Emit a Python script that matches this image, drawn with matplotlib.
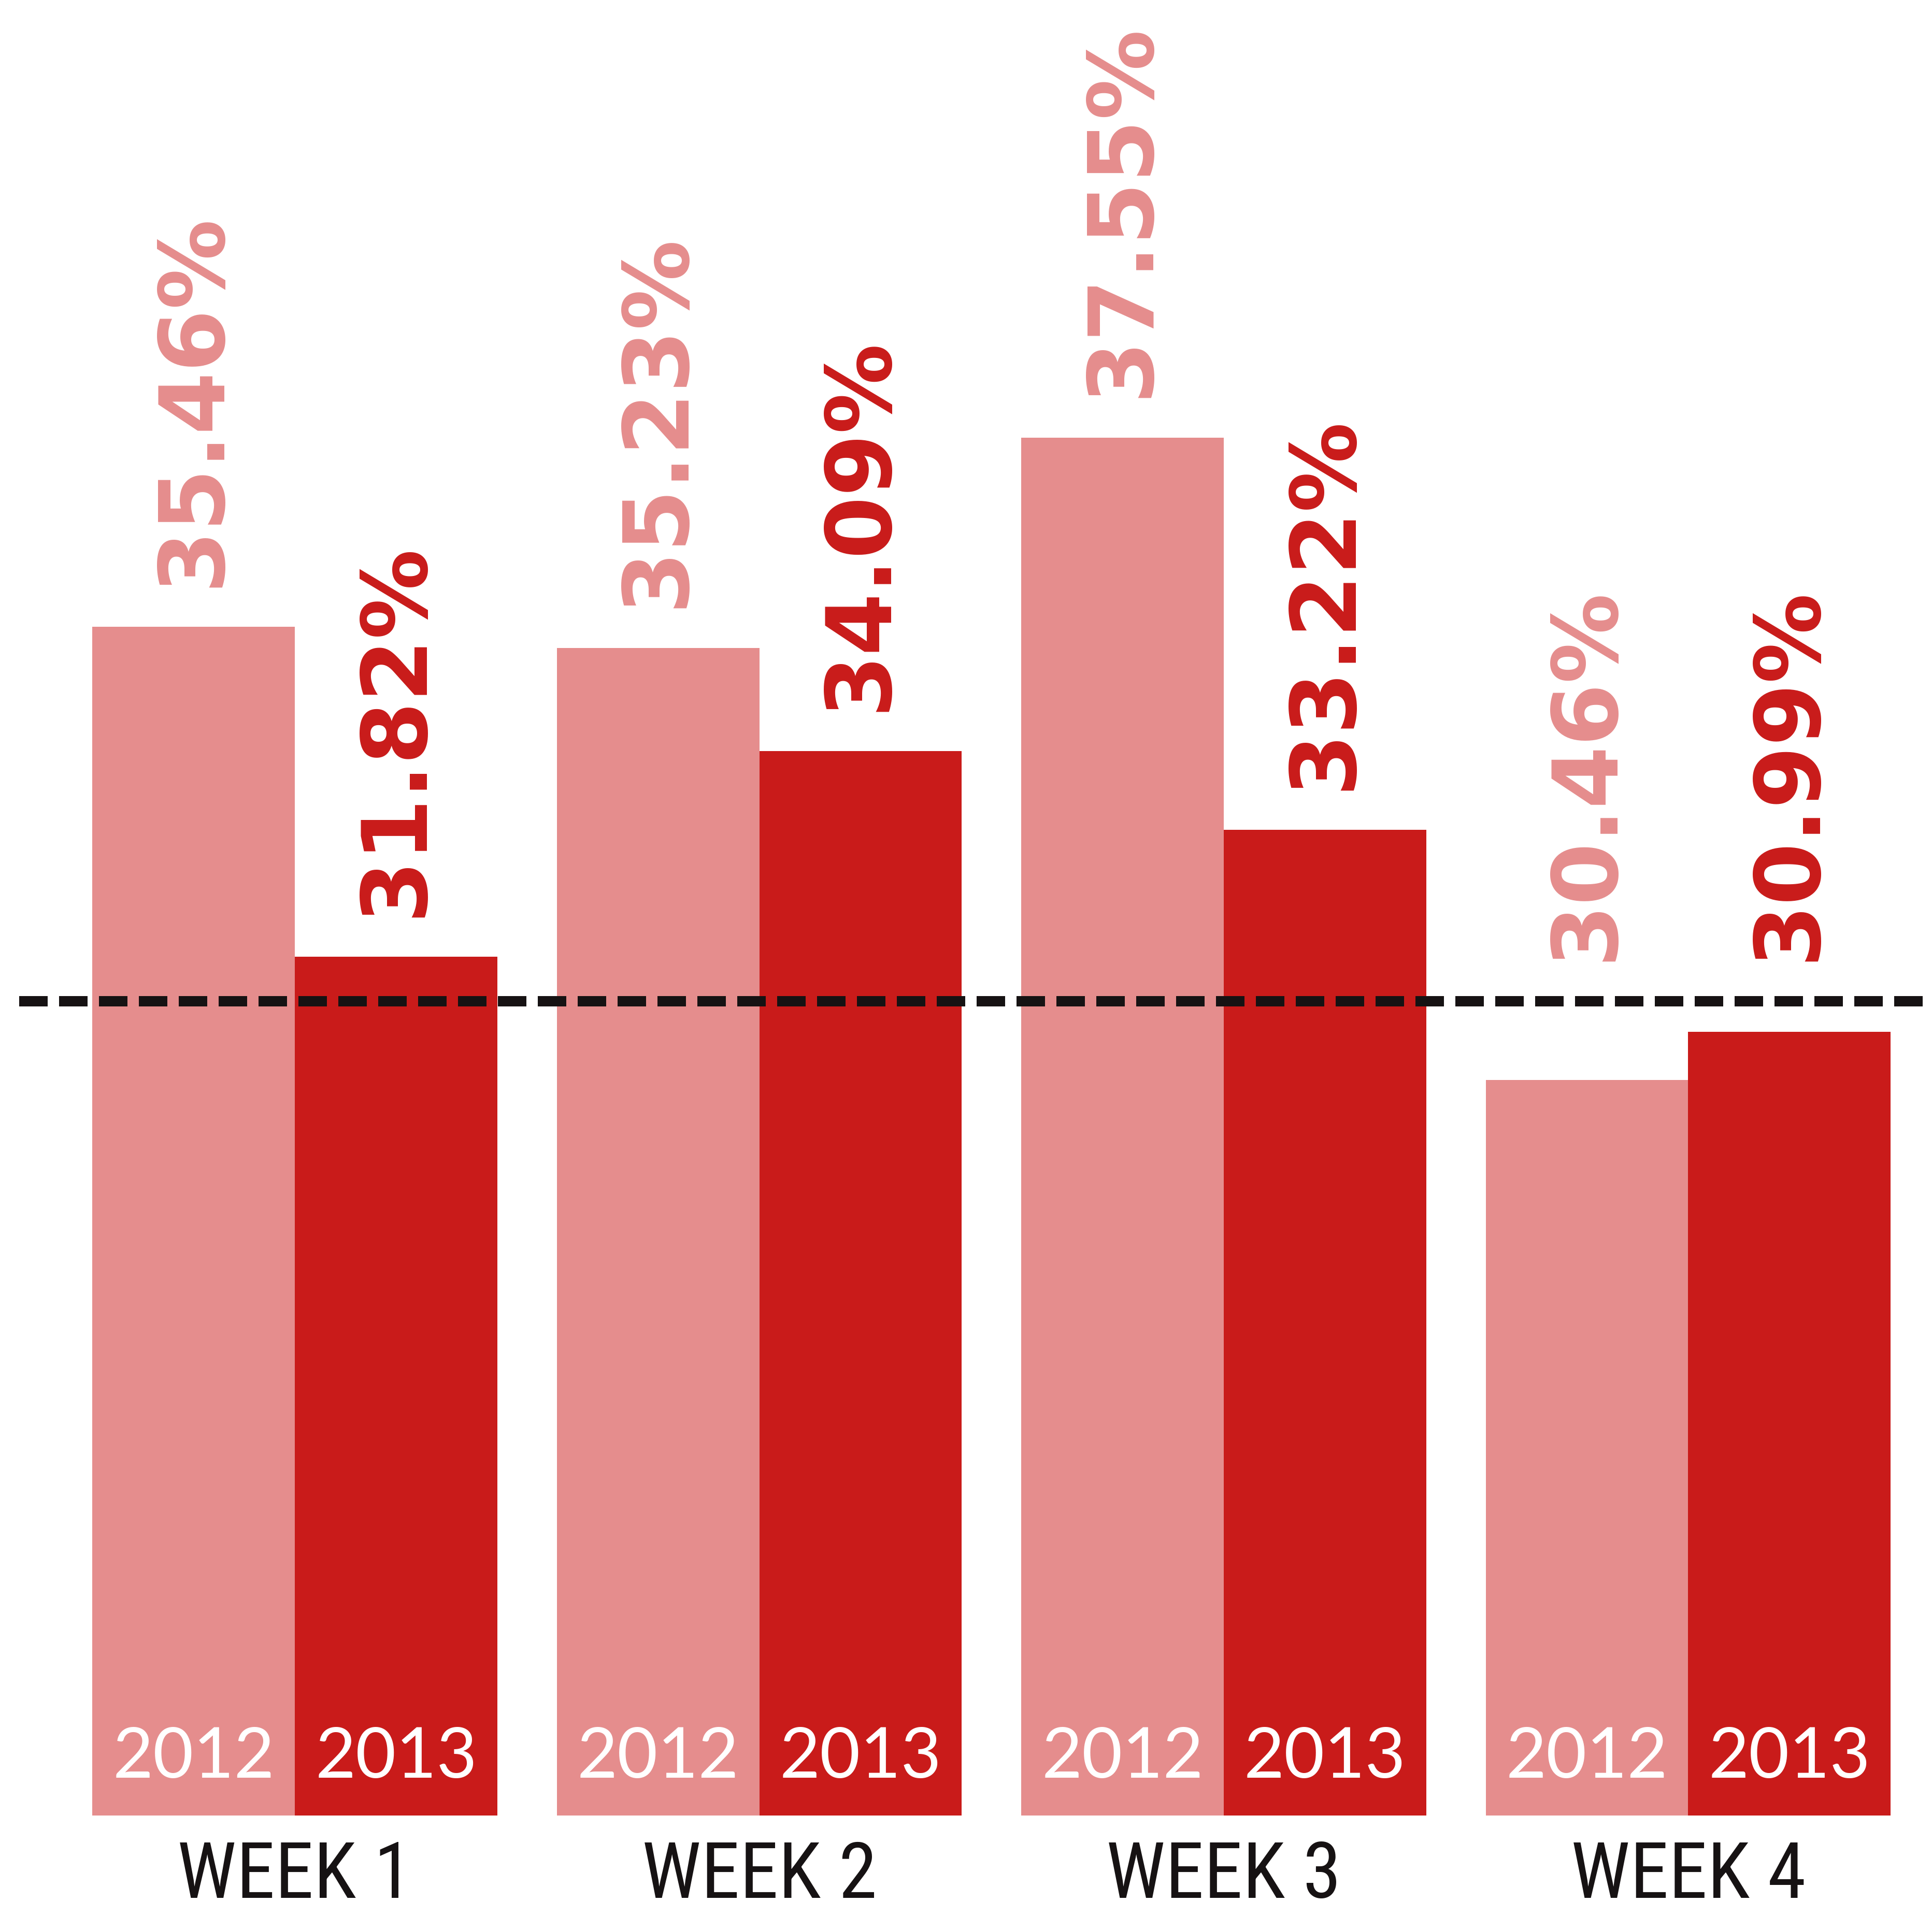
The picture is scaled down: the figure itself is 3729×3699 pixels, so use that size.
import matplotlib
matplotlib.use("Agg")
import matplotlib.pyplot as plt
from matplotlib import font_manager as fm
import numpy as np

weeks = ["WEEK 1", "WEEK 2", "WEEK 3", "WEEK 4"]
years = ["2012", "2013"]
v2012 = [35.46, 35.23, 37.55, 30.46]
v2013 = [31.82, 34.09, 33.22, 30.99]
ref_line = 31.33

light = "#E58D8D"
dark = "#C91B1A"
ink = "#161213"


def pick_font(names, weight, size):
    # choose one font file so the result does not depend on font cache order
    for name in names:
        cands = []
        for f in fm.fontManager.ttflist:
            if f.name != name or f.style != "normal":
                continue
            fw = f.weight if isinstance(f.weight, (int, float)) else fm.weight_dict.get(f.weight, 400)
            cands.append((abs(fw - weight), f.fname))
        if cands:
            cands.sort()
            return fm.FontProperties(fname=cands[0][1], size=size)
    return fm.FontProperties(family="DejaVu Sans", weight=weight, size=size)


val_font = fm.FontProperties(family="DejaVu Sans", weight="bold", size=125)
year_font = pick_font(["Lato"], 400, 97)
week_font = pick_font(["Roboto Condensed", "Lato"], 400, 108)

fig = plt.figure(figsize=(37.29, 36.99), dpi=100)
ax = fig.add_axes([0, 0.0524, 1, 0.9476])

x = np.arange(len(weeks))
w = 0.436
base = 22.34

for vals, off, col, yr in [(v2012, -w / 2, light, years[0]), (v2013, w / 2, dark, years[1])]:
    ax.bar(x + off, np.array(vals) - base, w, bottom=base, color=col, linewidth=0)
    for xi, v in zip(x + off, vals):
        top = max(v, ref_line)
        ax.annotate(f"{v:.2f}%", (xi, top), xytext=(0, 55), textcoords="offset points",
                    rotation=90, ha="center", va="bottom", color=col,
                    fontproperties=val_font)
        ax.annotate(yr, (xi, base), xytext=(0, 53), textcoords="offset points",
                    ha="center", va="baseline", color="white",
                    fontproperties=year_font)

for xi, lab in zip(x, weeks):
    ax.annotate(lab, (xi, 0), xycoords=("data", "figure fraction"),
                xytext=(0, 3), textcoords="offset points",
                ha="center", va="bottom", color=ink,
                fontproperties=week_font, annotation_clip=False)

ax.axhline(ref_line, xmin=0.01, xmax=1, color=ink, linewidth=14.4,
           dashes=(2.75, 1.1), dash_capstyle="butt")

ax.set_xlim(-0.635, 3.525)
ax.set_ylim(base, 42.38)
ax.axis("off")

fig.savefig("out.png", dpi=100)
